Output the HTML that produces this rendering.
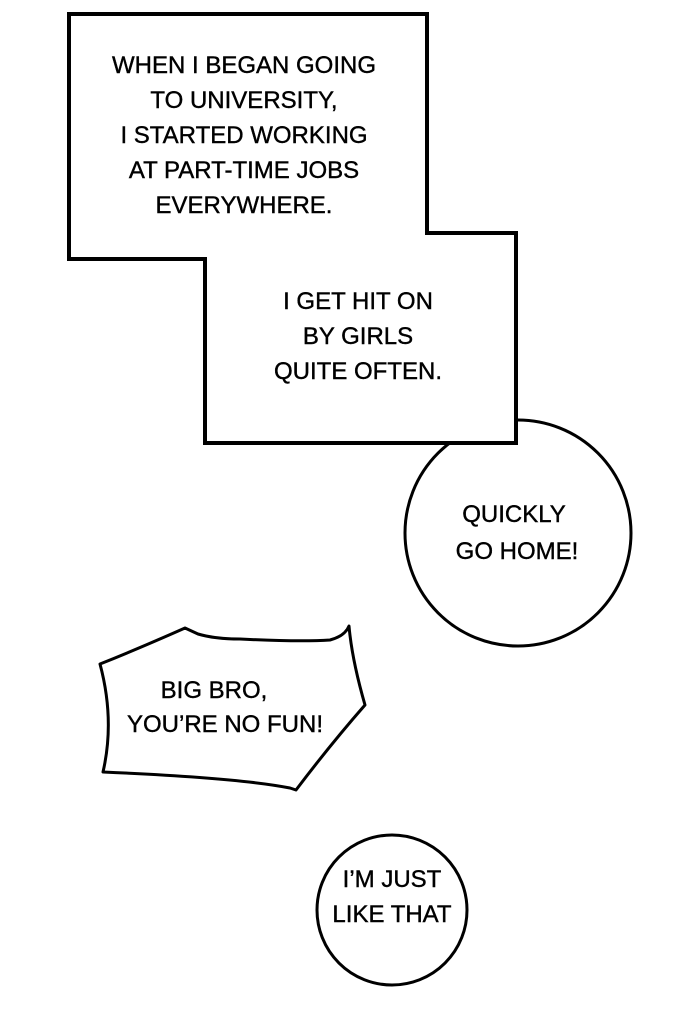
<!DOCTYPE html>
<html><head><meta charset="utf-8"><style>
html,body{margin:0;padding:0;background:#fff;}
svg{display:block;}
text{font-family:"Liberation Sans",sans-serif;font-size:24px;fill:#000;stroke:#000;stroke-width:0.4;text-anchor:middle;}
</style></head><body>
<svg width="690" height="1032" viewBox="0 0 690 1032" xmlns="http://www.w3.org/2000/svg">
<rect width="690" height="1032" fill="#fff"/>
<circle cx="518" cy="533" r="113" fill="#fff" stroke="#000" stroke-width="3"/>
<polygon points="69,14 427,14 427,233 516,233 516,443 205,443 205,259 69,259" fill="#fff" stroke="#000" stroke-width="4" stroke-linejoin="miter"/>
<text x="244" y="73">WHEN I BEGAN GOING</text>
<text x="244" y="108">TO UNIVERSITY,</text>
<text x="244" y="143">I STARTED WORKING</text>
<text x="244" y="178">AT PART-TIME JOBS</text>
<text x="244" y="213">EVERYWHERE.</text>
<text x="358" y="309">I GET HIT ON</text>
<text x="358" y="344">BY GIRLS</text>
<text x="358" y="379">QUITE OFTEN.</text>
<text x="514" y="522">QUICKLY</text>
<text x="517" y="559">GO HOME!</text>
<path d="M100,664 Q140,648 185,628 L198,634 Q215,639 240,639 Q300,642 330,640 Q345,636 349,626 Q352,660 365,705 Q330,745 296,790 L290,788 Q240,778 103,772 Q115,720 100,664 Z" fill="#fff" stroke="#000" stroke-width="3" stroke-linejoin="round"/>
<text x="214" y="698">BIG BRO,</text>
<text x="225" y="732">YOU’RE NO FUN!</text>
<circle cx="392" cy="910" r="75" fill="#fff" stroke="#000" stroke-width="3"/>
<text x="392" y="887">I’M JUST</text>
<text x="392" y="922">LIKE THAT</text>
</svg>
</body></html>
